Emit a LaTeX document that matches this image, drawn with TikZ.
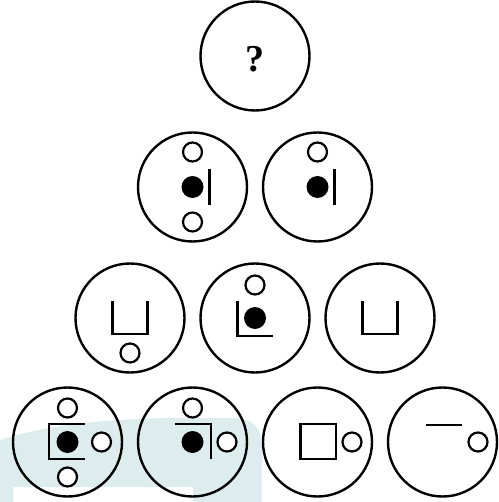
\documentclass[tikz,border=0pt]{standalone}
\usepackage{fontspec}
\setmainfont{Liberation Serif}
\usepackage{tikz}
\definecolor{wmark}{HTML}{DDEDED}
\tikzset{
  ring/.style={circle,draw,line width=2.4pt,minimum size=109pt,inner sep=0pt},
  ln/.style={line width=2.2pt},
  hole/.style={line width=2.2pt,fill=white},
  dot/.style={fill=black}
}

\begin{document}
\begin{tikzpicture}[x=1pt,y=-1pt]
\useasboundingbox (0,0) rectangle (498,502);
% faint background band
\fill[wmark] (0,440) .. controls (50,424) and (110,419) .. (170,418) -- (235,418) .. controls (252,418) and (262,428) .. (262,448) -- (262,502) -- (193,502) -- (193,487) -- (13,487) -- (13,502) -- (0,502) -- cycle;
% rings
\node[ring] (q) at (255,56) {};
\node[ring] (a1) at (192.5,187) {};
\node[ring] (a2) at (317.5,187) {};
\node[ring] (b1) at (130,318) {};
\node[ring] (b2) at (255,318) {};
\node[ring] (b3) at (380,318) {};
\node[ring] (c1) at (67.5,442) {};
\node[ring] (c2) at (192.5,442) {};
\node[ring] (c3) at (317.5,442) {};
\node[ring] (c4) at (442.5,442) {};
\node[font=\fontsize{38}{38}\selectfont\bfseries,yshift=-3pt] (qm) at (q) {?};
% second row
\begin{scope}[shift={(a1)}]
  \draw[hole] (0,-35) circle (9.5) (0,35) circle (9.5);
  \fill[dot] (0,0) circle (11);
  \draw[ln] (17,-18) -- (17,18);
\end{scope}
\begin{scope}[shift={(a2)}]
  \draw[hole] (0,-35) circle (9.5);
  \fill[dot] (0,0) circle (11);
  \draw[ln] (17,-18) -- (17,18);
\end{scope}
% third row
\begin{scope}[shift={(b1)}]
  \draw[ln] (-17.5,-17) -- (-17.5,16) -- (17.5,16) -- (17.5,-17);
  \draw[hole] (0,35) circle (9.5);
\end{scope}
\begin{scope}[shift={(b2)}]
  \draw[hole] (0,-33) circle (9.5);
  \draw[ln] (-17.5,-17) -- (-17.5,18) -- (17.5,18);
  \fill[dot] (0,0) circle (11);
\end{scope}
\begin{scope}[shift={(b3)}]
  \draw[ln] (-17.5,-17) -- (-17.5,16) -- (17.5,16) -- (17.5,-17);
\end{scope}
% bottom row
\begin{scope}[shift={(c1)}]
  \draw[hole] (0,-34) circle (9.5) (0,35) circle (9.5) (34,0) circle (9.5);
  \draw[ln] (17.5,-18) -- (-18.5,-18) -- (-18.5,17) -- (17.5,17);
  \fill[dot] (0,0) circle (11);
\end{scope}
\begin{scope}[shift={(c2)}]
  \draw[hole] (0,-34) circle (9.5) (34.5,0) circle (9.5);
  \draw[ln] (-17.5,-18) -- (18.5,-18) -- (18.5,17);
  \fill[dot] (0,0) circle (11);
\end{scope}
\begin{scope}[shift={(c3)}]
  \draw[ln] (-17,-18) rectangle (18.5,17);
  \draw[hole] (34.5,0) circle (9.5);
\end{scope}
\begin{scope}[shift={(c4)}]
  \draw[ln] (-16.5,-17) -- (19.5,-17);
  \draw[hole] (35.5,0) circle (9.5);
\end{scope}
\end{tikzpicture}
\end{document}
